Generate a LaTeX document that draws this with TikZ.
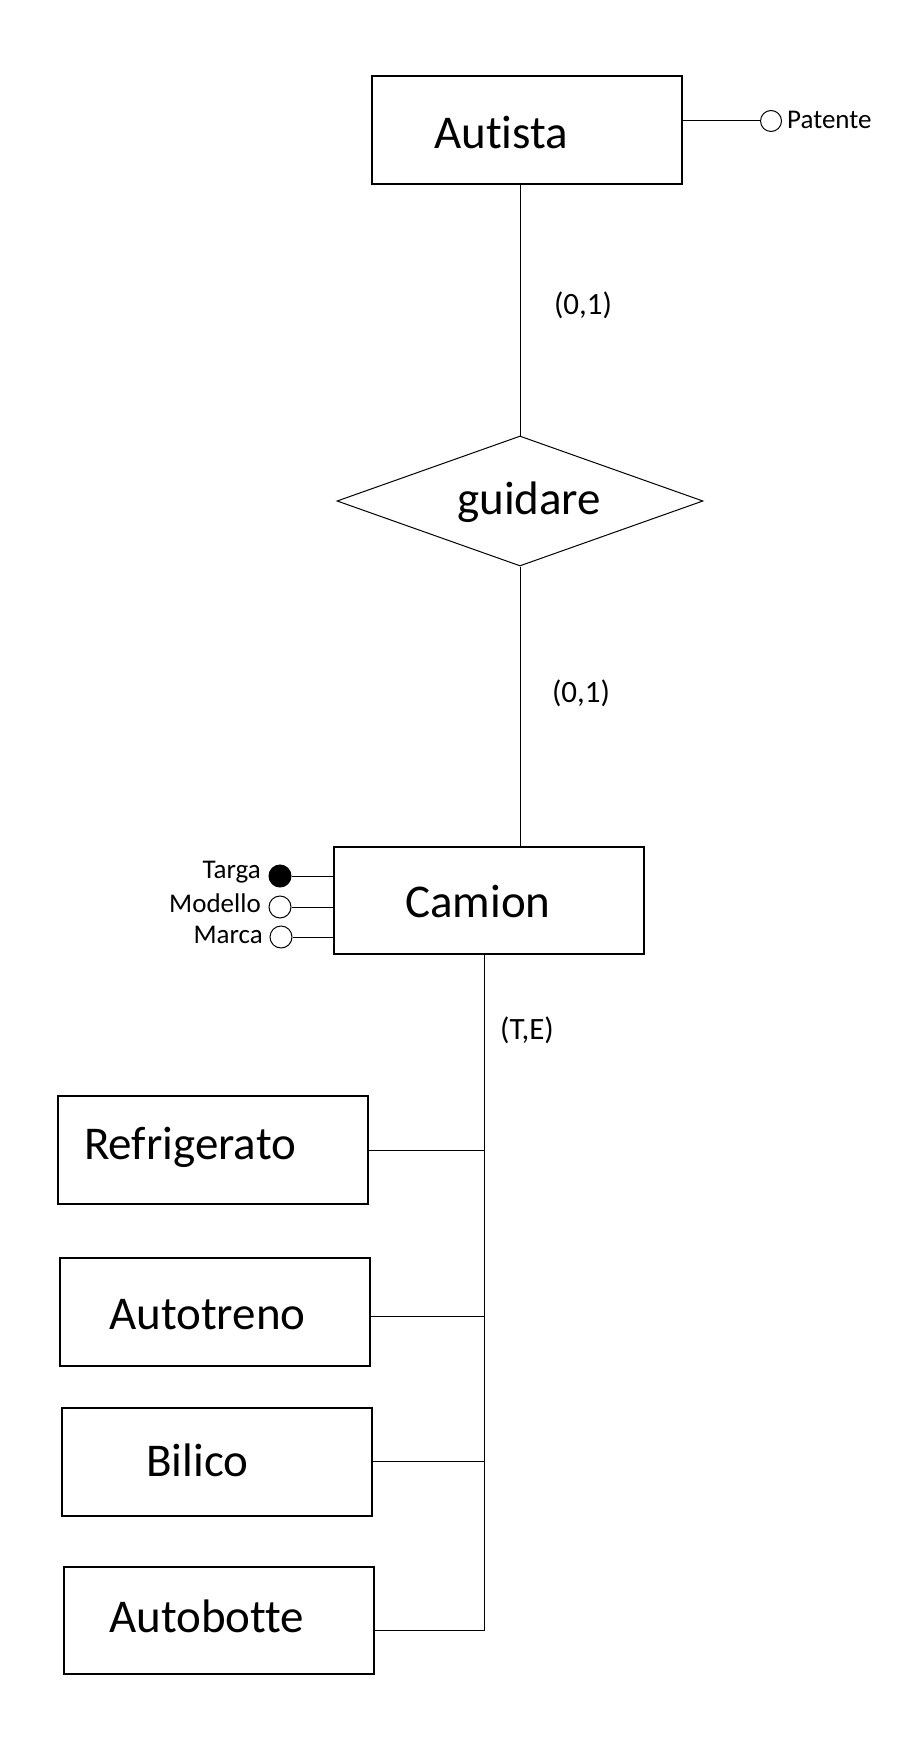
\documentclass[tikz,border=0pt]{standalone}
\usepackage{fontspec}
\setmainfont[Ligatures={NoCommon}]{Carlito}
\usetikzlibrary{shapes.geometric}
\tikzset{
  ent/.style={draw, line width=1.3pt, rectangle, inner sep=0pt, minimum width=310pt, minimum height=108pt},
  rel/.style={draw, line width=1pt, diamond, inner sep=0pt, minimum width=366pt, minimum height=130pt},
  conn/.style={line width=1pt},
  bigtext/.style={anchor=base west, inner sep=0pt, font=\fontsize{47}{56}\selectfont},
  card/.style={inner sep=0pt, font=\fontsize{31}{37}\selectfont},
  attrtext/.style={inner sep=0pt, font=\fontsize{27}{32}\selectfont},
  attr/.style={draw, circle, line width=1pt, inner sep=0pt, minimum size=#1},
  attr/.default=22pt
}
\begin{document}
\begin{tikzpicture}[x=1pt,y=-1pt]
\useasboundingbox[fill=white] (0,0) rectangle (908,1760);

% entities
\node[ent] (autista) at (527,130) {};
\node[bigtext] (tautista) at (434,149) {Autista};
\node[rel] (guidare) at (520,501) {};
\node[bigtext] (tguidare) at (457,514) {guidare};
\node[ent, minimum height=107pt] (camion) at (489,900.5) {};
\node[bigtext] (tcamion) at (405,917) {Camion};
\node[ent] (refr) at (213,1150) {};
\node[bigtext] (trefr) at (84,1159) {Refrigerato};
\node[ent] (autotreno) at (215,1312) {};
\node[bigtext] (tautotreno) at (109,1329) {Autotreno};
\node[ent] (bilico) at (217,1462) {};
\node[bigtext] (tbilico) at (146,1476) {Bilico};
\node[ent, minimum height=107pt] (autobotte) at (219,1620.5) {};
\node[bigtext] (tautobotte) at (109,1632) {Autobotte};

% relationship connectors
\draw[conn] (guidare.north) -- (guidare.north |- autista.south);
\draw[conn] (guidare.south) -- (guidare.south |- camion.north);
\node[card] (c1) at (583,305) {(0,1)};
\node[card] (c2) at (581,693) {(0,1)};

% generalization
\coordinate (hub) at (484,1630);
\draw[conn] (camion.south -| hub) -- (hub) -- (autobotte.east |- hub);
\draw[conn] (refr.east) -- (refr.east -| hub);
\draw[conn] ([yshift=-4pt]autotreno.east) -- ([yshift=-4pt]autotreno.east -| hub);
\draw[conn] ([yshift=1pt]bilico.east) -- ([yshift=1pt]bilico.east -| hub);
\node[card] (te) at (527,1030) {(T,E)};

% attributes
\node[attr=21pt] (patente) at (771,121) {};
\draw[conn] ([yshift=9pt]autista.east) -- (patente.west);
\node[attrtext, anchor=base west] (tpatente) at (787,129) {Patente};

\node[attr, fill=black] (targa) at (280,876) {};
\node[attr] (modello) at (280,907) {};
\node[attr] (marca) at (281,937) {};
\draw[conn] (targa.east) -- (targa.east -| camion.west);
\draw[conn] (modello.east) -- (modello.east -| camion.west);
\draw[conn] (marca.east) -- (marca.east -| camion.west);
\node[attrtext, anchor=base east] (ttarga) at (261,878) {Targa};
\node[attrtext, anchor=base east] (tmodello) at (261,912) {Modello};
\node[attrtext, anchor=base east] (tmarca) at (263,943) {Marca};
\end{tikzpicture}
\end{document}
